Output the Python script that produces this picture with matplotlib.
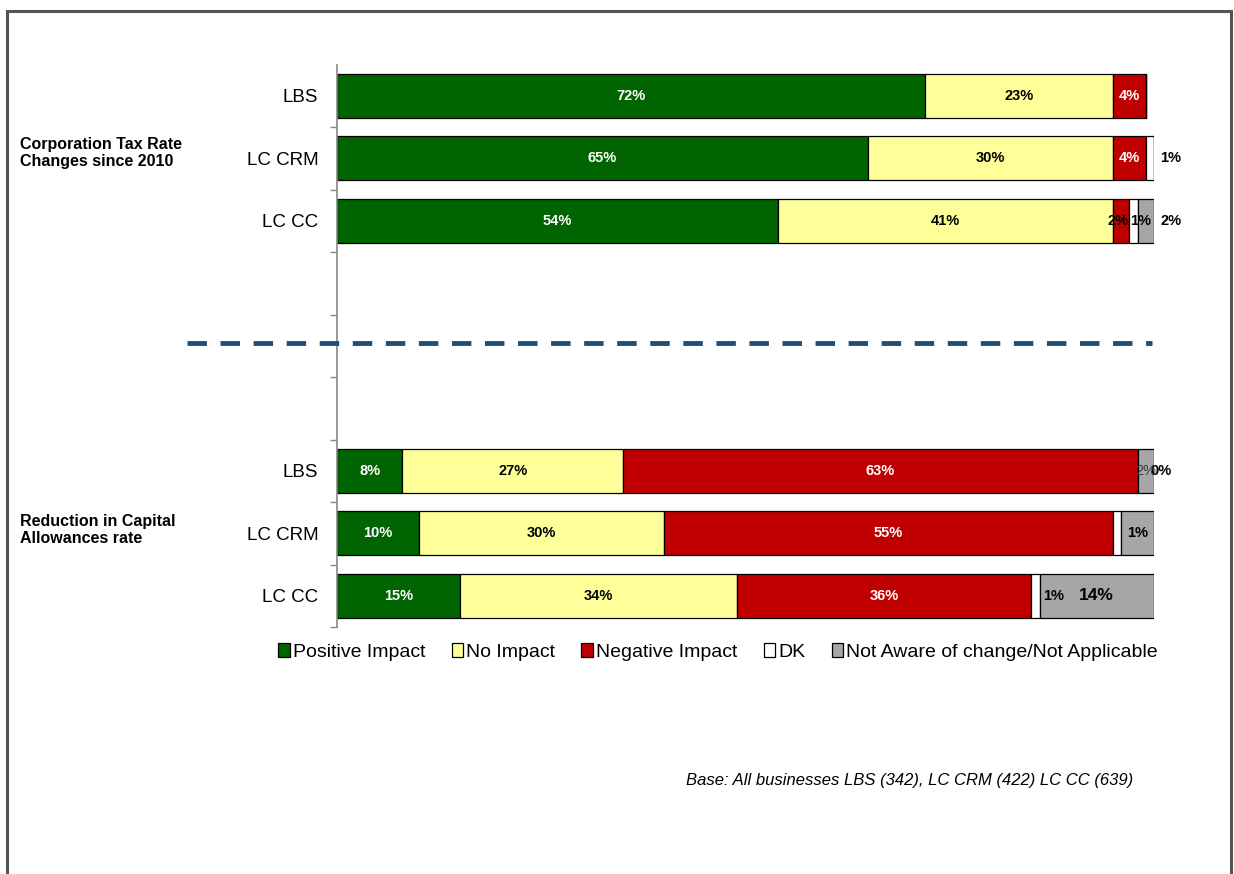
import matplotlib
matplotlib.use("Agg")
import matplotlib.pyplot as plt
from matplotlib.patches import Rectangle, Patch

# rows top to bottom; blank slots separate the two question groups
row_labels = ["LBS", "LC CRM", "LC CC", "", "", "", "LBS", "LC CRM", "LC CC"]
series_names = ["Positive Impact", "No Impact", "Negative Impact", "DK",
                "Not Aware of change/Not Applicable"]

positive = [72, 65, 54, None, None, None, 8, 10, 15]
no_impact = [23, 30, 41, None, None, None, 27, 30, 34]
negative = [4, 4, 2, None, None, None, 63, 55, 36]
dont_know = [0, 1, 1, None, None, None, 0, 1, 1]
not_aware = [0, 0, 2, None, None, None, 2, 4, 14]

# printed data labels ("" = no label)
label_text = {
    0: ["72%", "23%", "4%", "", ""],
    1: ["65%", "30%", "4%", "1%", ""],
    2: ["54%", "41%", "2%", "1%", "2%"],
    6: ["8%", "27%", "63%", "0%", "2%"],
    7: ["10%", "30%", "55%", "", "1%"],
    8: ["15%", "34%", "36%", "1%", "14%"],
}

group_titles = ["Corporation Tax Rate\nChanges since 2010", "Reduction in Capital\nAllowances rate"]
footnote = "Base: All businesses LBS (342), LC CRM (422) LC CC (639)"

colors = ["#006400", "#FFFF99", "#C00000", "#FFFFFF", "#A6A6A6"]
label_colors = ["white", "black", "white", "black", "black"]

# label tweaks: (row, segment) -> (x shift in %, colour, weight, size)
label_tweaks = {
    (1, 3): (2.5, "black", "bold", 10.5),
    (2, 2): (-0.4, "black", "bold", 10.5),
    (2, 3): (0.9, "black", "bold", 10.5),
    (2, 4): (3.1, "black", "bold", 10.5),
    (6, 3): (2.9, "black", "bold", 10.5),
    (6, 4): (0.0, "#404040", "normal", 10.5),
    (8, 3): (2.2, "black", "bold", 10.5),
    (8, 4): (0.0, "black", "bold", 12.5),
}

plt.rcParams["font.family"] = ["Liberation Sans", "DejaVu Sans"]

fig = plt.figure(figsize=(12.34, 8.74), dpi=100)
ax = fig.add_axes([337 / 1234, 1 - 627 / 874, 817 / 1234, (627 - 64.5) / 874])

series = [positive, no_impact, negative, dont_know, not_aware]
ypos = list(range(len(row_labels)))
left = [0.0] * len(ypos)
for s, vals in enumerate(series):
    ys = [y for y in ypos if vals[y] is not None]
    ws = [vals[y] for y in ys]
    ls = [left[y] for y in ys]
    ax.barh(ys, ws, left=ls, height=0.7, color=colors[s], edgecolor="black",
            linewidth=0.9, label=series_names[s], zorder=2)
    for y, w, l in zip(ys, ws, ls):
        txt = label_text[y][s]
        if txt:
            dx, col, wt, sz = label_tweaks.get((y, s), (0.0, label_colors[s], "bold", 10.5))
            ax.text(l + w / 2 + dx, y, txt, ha="center", va="center", color=col,
                    fontsize=sz, fontweight=wt, zorder=3, clip_on=False)
        left[y] = l + w

ax.set_xlim(0, 100)
ax.set_ylim(len(row_labels) - 0.5, -0.5)
ax.set_yticks(ypos)
ax.set_yticklabels(row_labels, fontsize=13.5)
ax.tick_params(axis="y", which="major", length=0, pad=13.5)
ax.set_yticks([y + 0.5 for y in ypos], minor=True)
ax.tick_params(axis="y", which="minor", length=5, color="#888888", width=1, direction="out")
ax.set_xticks([])
for side in ["top", "right", "bottom"]:
    ax.spines[side].set_visible(False)
ax.spines["left"].set_color("#888888")
ax.spines["left"].set_linewidth(1.2)

# dashed separator between the two groups
sep_y = 1 - 343 / 874
fig.add_artist(plt.Line2D([187 / 1234, 1152 / 1234], [sep_y, sep_y], color="#1F4E79",
                          linewidth=3.5, linestyle=(0, (4, 2.8)), zorder=5))

fig.text(20 / 1234, 1 - 153 / 874, group_titles[0], fontsize=11.5, fontweight="bold",
         ha="left", va="center", linespacing=1.15)
fig.text(20 / 1234, 1 - 530 / 874, group_titles[1], fontsize=11.5, fontweight="bold",
         ha="left", va="center", linespacing=1.15)

handles = [Patch(facecolor=c, edgecolor="black", linewidth=0.9) for c in colors]
fig.legend(handles, series_names, loc="center", bbox_to_anchor=(718 / 1234, 1 - 652 / 874),
           ncol=5, frameon=False, handlelength=0.6, handleheight=0.7, handletextpad=0.15,
           columnspacing=1.35, prop={"size": 14})

fig.text(1133 / 1234, 1 - 781 / 874, footnote, fontsize=12, style="italic",
         ha="right", va="center")

fig.add_artist(Rectangle((7 / 1234, -0.05), (1231 - 7) / 1234, 1.05 - 11 / 874,
                         transform=fig.transFigure, fill=False, edgecolor="#555555",
                         linewidth=2.2))

fig.savefig("out.png", dpi=100)
